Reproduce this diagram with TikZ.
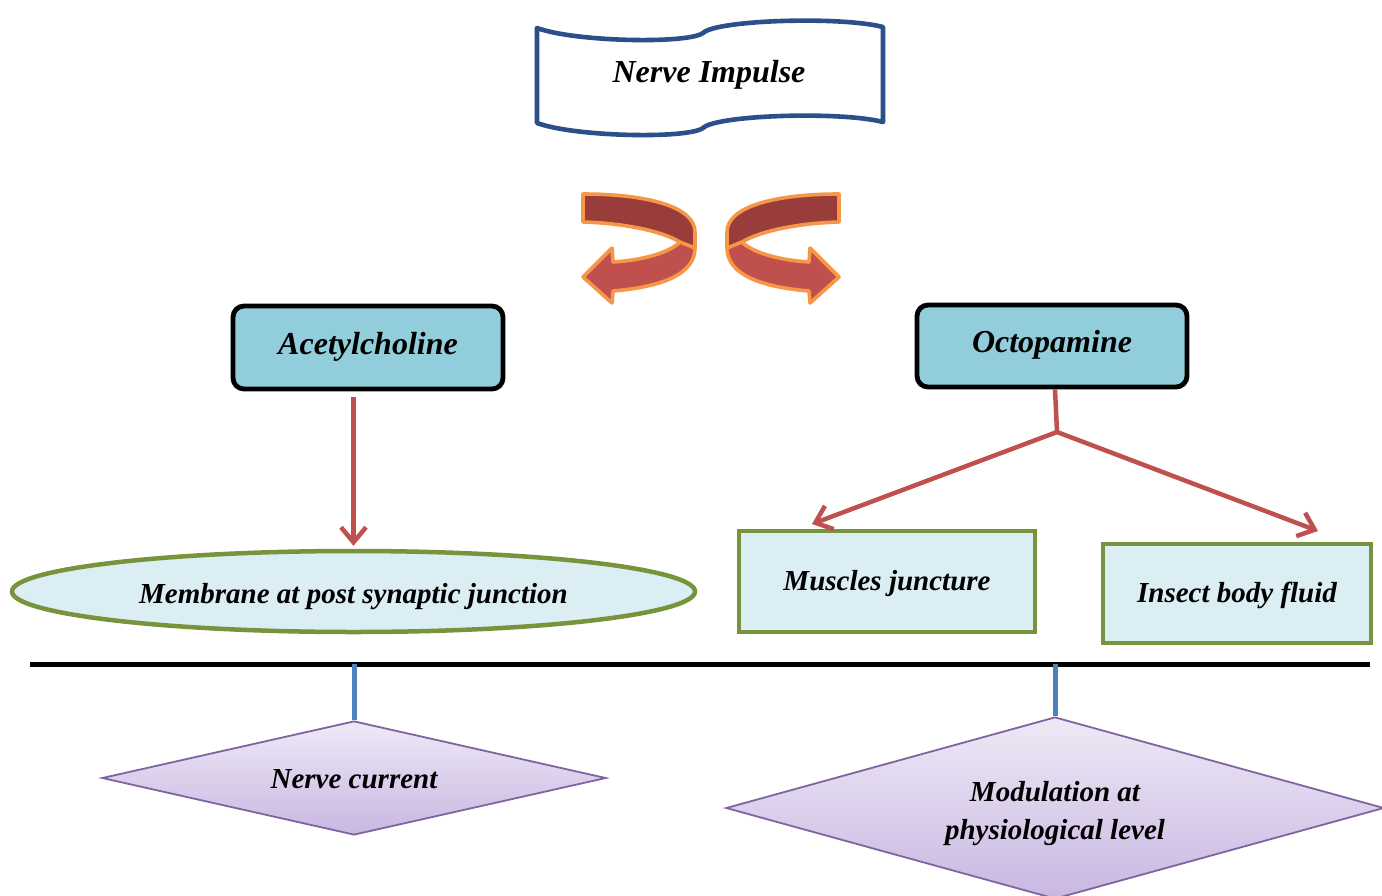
\documentclass[tikz,border=0pt]{standalone}
\usepackage{fontspec}
\setmainfont{Liberation Serif}
\usetikzlibrary{shapes.geometric,arrows.meta}
\definecolor{bannerblue}{HTML}{2B5089}
\definecolor{boxblue}{HTML}{92CDDC}
\definecolor{paleblue}{HTML}{DAEEF3}
\definecolor{leafgreen}{HTML}{77933C}
\definecolor{arrowred}{HTML}{C0504D}
\definecolor{darkred}{HTML}{993D3B}
\definecolor{ribbonorange}{HTML}{F79646}
\definecolor{stemblue}{HTML}{4F81BD}
\definecolor{lilacline}{HTML}{8064A2}
\definecolor{lilactop}{HTML}{EEE9F6}
\definecolor{lilacbot}{HTML}{C9B7E2}
\newcommand\myribbon{%
  \fill[darkred] (583,194) .. controls (645,194) and (695,206) .. (695,232)
    -- (695,248) -- (680,242) .. controls (660,230) and (620,223) .. (583,222) -- cycle;
  \fill[arrowred] (695,248) .. controls (695,275) and (660,287) .. (613,291)
    -- (612,303) -- (583,277) -- (612,248) -- (613,262)
    .. controls (645,260) and (670,252) .. (680,242) -- cycle;
  \draw[ribbonorange, line width=3.6pt, line join=round]
    (583,194) .. controls (645,194) and (695,206) .. (695,232)
    -- (695,248) .. controls (695,275) and (660,287) .. (613,291)
    -- (612,303) -- (583,277) -- (612,248) -- (613,262)
    .. controls (645,260) and (670,252) .. (680,242)
    .. controls (660,230) and (620,223) .. (583,222) -- cycle
    (680,242) -- (695,248);
}
\newcommand\lowered[2]{\raisebox{-#1}[\height][\depth]{#2}}
\begin{document}
\begin{tikzpicture}[x=1pt,y=-1pt,
  lbl/.style={font=\fontsize{29}{38}\selectfont\bfseries\itshape, text=black},
  biglbl/.style={font=\fontsize{32}{38}\selectfont\bfseries\itshape, text=black},
  chembox/.style={biglbl, draw=black, fill=boxblue, line width=4.8pt, rounded corners=11pt, inner sep=0pt},
  sitebox/.style={lbl, draw=leafgreen, fill=paleblue, line width=4.5pt, inner sep=0pt},
  effect/.style={lbl, diamond, draw=lilacline, line width=1.8pt, top color=lilactop, bottom color=lilacbot, inner sep=0pt, align=center},
  redline/.style={arrowred, line width=4.5pt},
  redarrow/.style={redline, -{Straight Barb[length=15pt,width=25pt]}},
  stem/.style={stemblue, line width=5pt}]
\useasboundingbox (0,0) rectangle (1382,895);
% banner
\draw[bannerblue, fill=white, line width=4.6pt, line join=round]
  (537,28) .. controls (575,42) and (688,44) .. (703,33)
  .. controls (716,20) and (840,16) .. (883,27)
  -- (883,122)
  .. controls (840,111) and (716,115) .. (703,128)
  .. controls (688,139) and (575,137) .. (537,123) -- cycle;
\node[biglbl] (imp) at (709,75) {Nerve Impulse};
% ribbon arrows
\myribbon
\begin{scope}[xshift=1422pt, xscale=-1]
\myribbon
\end{scope}
% chemical boxes
\node[chembox, minimum width=270pt, minimum height=83pt] (ach) at (368,347.5) {\lowered{-1pt}{Acetylcholine}};
\node[chembox, minimum width=270pt, minimum height=82pt] (oct) at (1052,346) {\lowered{-1pt}{Octopamine}};
% sites
\node[sitebox, ellipse, minimum width=683pt, minimum height=81pt] (mem) at (353.5,591.5) {\lowered{5pt}{Membrane at post synaptic junction}};
\node[sitebox, minimum width=296pt, minimum height=101pt] (mus) at (887,581.5) {\lowered{2pt}{Muscles juncture}};
\node[sitebox, minimum width=268pt, minimum height=99pt] (ibf) at (1237,593.5) {\lowered{2pt}{Insect body fluid}};
% connectors
\draw[redarrow, shorten <=6pt, shorten >=3pt] (mem.north |- ach.south) -- (mem.north);
\coordinate (fork) at (1057,432);
\coordinate (musend) at (812,524);
\coordinate (ibfend) at (1318,531);
\draw[redline, line join=round] ([xshift=3pt]oct.south) -- (fork);
\draw[redarrow] (fork) -- (musend);
\draw[redarrow] (fork) -- (ibfend);
% base line
\coordinate (baseL) at (30,664);
\coordinate (baseR) at (1370,664);
\draw[black, line width=5pt] (baseL) -- (baseR);
% effects
\node[effect, minimum width=504pt, minimum height=114pt, aspect=4.4] (cur) at (354,778) {\lowered{1pt}{Nerve current}};
\node[effect, minimum width=658pt, minimum height=182pt, aspect=3.6] (mod) at (1055,808) {\lowered{6pt}{Modulation at}\\\lowered{6pt}{physiological level}};
\draw[stem] (cur.north |- baseL) -- (cur.north);
\draw[stem] (mod.north |- baseL) -- (mod.north);
\end{tikzpicture}
\end{document}
